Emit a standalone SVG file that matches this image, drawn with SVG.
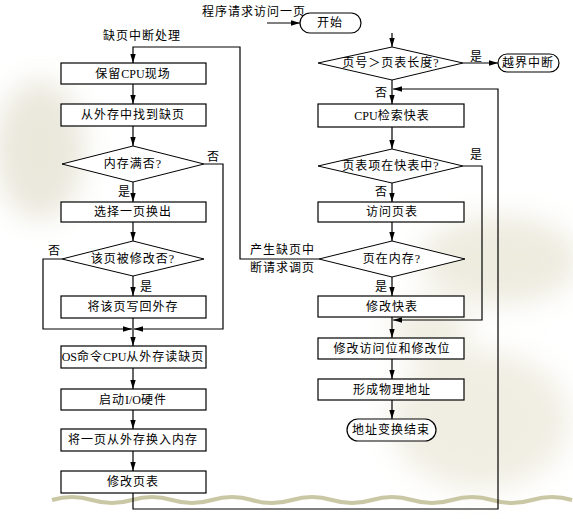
<svg xmlns="http://www.w3.org/2000/svg" width="573" height="519" viewBox="0 0 573 519">
<style>
.box{fill:#fff;stroke:#000;stroke-width:1.2}
.dia{fill:#fff;stroke:#000;stroke-width:1}
.t{font-family:"Liberation Serif","Noto Sans CJK SC",serif;font-size:12px;fill:#000;text-anchor:middle;letter-spacing:1px}
.l{font-family:"Liberation Serif","Noto Sans CJK SC",serif;font-size:12px;fill:#000;letter-spacing:1px}
.lat{letter-spacing:0}
.c{fill:none;stroke:#000;stroke-width:1.2}
</style>
<defs>
<marker id="a" markerUnits="userSpaceOnUse" markerWidth="10" markerHeight="7" refX="9" refY="3.5" orient="auto">
<path d="M0,0.8 L9,3.5 L0,6.2 Z" fill="#000"/>
</marker>
<filter id="blur"><feGaussianBlur stdDeviation="14"/></filter>
</defs>
<rect width="573" height="519" fill="#fff"/>
<g id="background" filter="url(#blur)" opacity="0.55">
<ellipse cx="40" cy="150" rx="45" ry="70" fill="#d9d6bf"/>
<ellipse cx="500" cy="260" rx="80" ry="45" fill="#e0ddc6"/>
<ellipse cx="480" cy="420" rx="90" ry="70" fill="#e4e1cc"/>
<ellipse cx="430" cy="330" rx="40" ry="30" fill="#e4e1cc"/>
</g>
<path d="M52,500 q20,-6 40,0 t40,0 t40,0 t40,0 t40,0 t40,0 t40,0 t40,0 t40,0 t40,0 t40,0 t40,0 t40,0" fill="none" stroke="#bdb98e" stroke-width="4" opacity="0.8"/>

<g id="connectors">
<path class="c" d="M319,259 H240 V47 H133 V63" marker-end="url(#a)"/>
<path class="c" d="M133,84 V104" marker-end="url(#a)"/>
<path class="c" d="M133,126 V146" marker-end="url(#a)"/>
<path class="c" d="M133,182 V202" marker-end="url(#a)"/>
<path class="c" d="M133,222 V241" marker-end="url(#a)"/>
<path class="c" d="M133,276 V296" marker-end="url(#a)"/>
<path class="c" d="M133,318 V346" marker-end="url(#a)"/>
<path class="c" d="M204,164 H223 V329 H134" marker-end="url(#a)"/>
<path class="c" d="M62,259 H43 V329 H132" marker-end="url(#a)"/>
<path class="c" d="M133,368 V389" marker-end="url(#a)"/>
<path class="c" d="M133,410 V429" marker-end="url(#a)"/>
<path class="c" d="M133,451 V471" marker-end="url(#a)"/>
<path class="c" d="M133,493 V509 H498 V89 H393" marker-end="url(#a)"/>
<path class="c" d="M267,23 H300" marker-end="url(#a)"/>
<path class="c" d="M392,33 V47" marker-end="url(#a)"/>
<path class="c" d="M463,63 H498" marker-end="url(#a)"/>
<path class="c" d="M392,80 V104" marker-end="url(#a)"/>
<path class="c" d="M392,127 V149" marker-end="url(#a)"/>
<path class="c" d="M463,166 H482 V320 H393" marker-end="url(#a)"/>
<path class="c" d="M392,183 V202" marker-end="url(#a)"/>
<path class="c" d="M392,222 V241" marker-end="url(#a)"/>
<path class="c" d="M392,277 V296" marker-end="url(#a)"/>
<path class="c" d="M392,317 V338" marker-end="url(#a)"/>
<path class="c" d="M392,359 V379" marker-end="url(#a)"/>
<path class="c" d="M392,400 V419" marker-end="url(#a)"/>
</g>

<g id="labels">
<text class="l" x="202" y="16">程序请求访问一页</text>
<text class="l" x="103" y="40">缺页中断处理</text>
<text class="l" x="207" y="161">否</text>
<text class="l" x="118" y="196">是</text>
<text class="l" x="48" y="255">否</text>
<text class="l" x="140" y="291">是</text>
<text class="l" x="250" y="254">产生缺页中</text>
<text class="l" x="250" y="272">断请求调页</text>
<text class="l" x="470" y="61">是</text>
<text class="l" x="375" y="97">否</text>
<text class="l" x="470" y="159">是</text>
<text class="l" x="375" y="196">否</text>
<text class="l" x="375" y="291">是</text>
</g>

<g id="n-protect"><rect class="box" x="61" y="63" width="145" height="21"/><text class="t" x="133" y="78">保留<tspan class="lat">CPU</tspan>现场</text></g>
<g id="n-find"><rect class="box" x="61" y="104" width="145" height="22"/><text class="t" x="133" y="119">从外存中找到缺页</text></g>
<g id="n-full"><polygon class="dia" points="133,146 204,164 133,182 62,164"/><text class="t" x="133" y="168">内存满否?</text></g>
<g id="n-select"><rect class="box" x="61" y="202" width="145" height="20"/><text class="t" x="133" y="216">选择一页换出</text></g>
<g id="n-modified"><polygon class="dia" points="133,241 204,259 133,276 62,259"/><text class="t" x="133" y="263">该页被修改否?</text></g>
<g id="n-writeback"><rect class="box" x="61" y="296" width="145" height="22"/><text class="t" x="133" y="311">将该页写回外存</text></g>
<g id="n-os"><rect class="box" x="61" y="346" width="145" height="22"/><text class="t" x="133" y="361"><tspan class="lat">OS</tspan>命令<tspan class="lat">CPU</tspan>从外存读缺页</text></g>
<g id="n-io"><rect class="box" x="61" y="389" width="145" height="21"/><text class="t" x="133" y="404">启动<tspan class="lat">I/O</tspan>硬件</text></g>
<g id="n-swapin"><rect class="box" x="61" y="429" width="145" height="22"/><text class="t" x="133" y="444">将一页从外存换入内存</text></g>
<g id="n-modpt"><rect class="box" x="61" y="471" width="145" height="22"/><text class="t" x="133" y="486">修改页表</text></g>

<g id="n-start"><rect class="box" x="300" y="13" width="61" height="20" rx="10"/><text class="t" x="330" y="27">开始</text></g>
<g id="n-len"><polygon class="dia" points="392,47 463,63 392,80 318,63"/><text class="t" x="391" y="67">页号＞页表长度?</text></g>
<g id="n-outofbound"><rect class="box" x="498" y="54" width="61" height="18" rx="9"/><text class="t" x="528" y="67">越界中断</text></g>
<g id="n-tlb"><rect class="box" x="318" y="104" width="146" height="23"/><text class="t" x="392" y="120"><tspan class="lat">CPU</tspan>检索快表</text></g>
<g id="n-intlb"><polygon class="dia" points="392,149 463,166 392,183 318,166"/><text class="t" x="391" y="170">页表项在快表中?</text></g>
<g id="n-visitpt"><rect class="box" x="318" y="202" width="146" height="20"/><text class="t" x="392" y="216">访问页表</text></g>
<g id="n-inmem"><polygon class="dia" points="392,241 465,259 392,277 319,259"/><text class="t" x="392" y="263">页在内存?</text></g>
<g id="n-modtlb"><rect class="box" x="318" y="296" width="146" height="21"/><text class="t" x="392" y="311">修改快表</text></g>
<g id="n-modbits"><rect class="box" x="318" y="338" width="146" height="21"/><text class="t" x="392" y="353">修改访问位和修改位</text></g>
<g id="n-phys"><rect class="box" x="318" y="379" width="146" height="21"/><text class="t" x="392" y="394">形成物理地址</text></g>
<g id="n-end"><rect class="box" x="347" y="419" width="89" height="22" rx="11"/><text class="t" x="391" y="434">地址变换结束</text></g>
</svg>
